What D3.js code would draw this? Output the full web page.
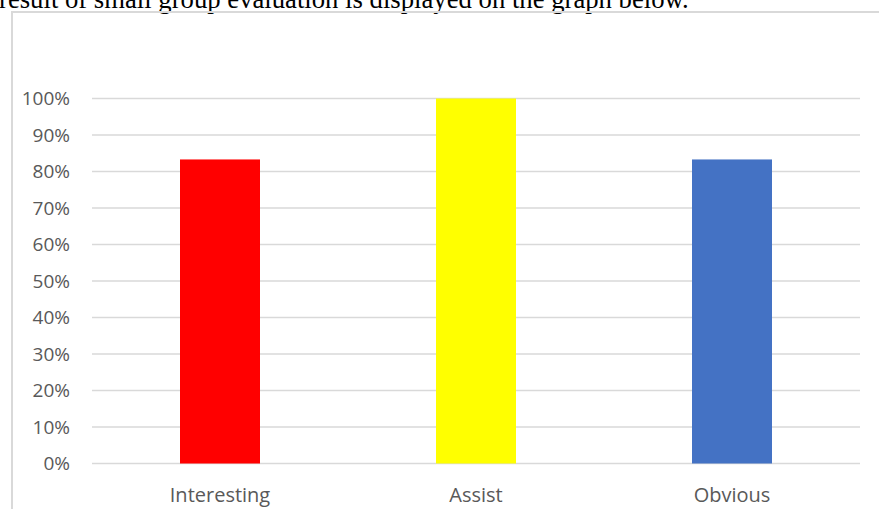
<!DOCTYPE html>
<html>
<head>
<meta charset="utf-8">
<script src="https://cdn.jsdelivr.net/npm/d3@7"></script>
<style>
  html, body { margin: 0; padding: 0; background: #fff; }
  svg { display: block; }
</style>
</head>
<body>
<script>
// Small group evaluation results
const categories = ["Interesting", "Assist", "Obvious"];
const values = [0.833, 1.0, 0.833];
const barColors = ["#ff0000", "#ffff00", "#4472c4"];
const tickValues = [0, 0.1, 0.2, 0.3, 0.4, 0.5, 0.6, 0.7, 0.8, 0.9, 1.0];
const captionText = "result of small group evaluation is displayed on the graph below.";

const W = 879, H = 509;
const svg = d3.select("body").append("svg")
  .attr("width", W).attr("height", H);

// Caption line above the chart frame (runs off the top of the page)
svg.append("text")
  .attr("x", -1).attr("y", 8)
  .attr("font-family", "'Liberation Serif', 'Times New Roman', serif")
  .attr("font-size", 26.7)
  .attr("fill", "#000")
  .text(captionText);

// Chart area frame
svg.append("path")
  .attr("d", `M12,${H + 5} L12,12 L${W + 5},12`)
  .attr("fill", "none")
  .attr("stroke", "#d9d9d9")
  .attr("stroke-width", 2);

const plot = { left: 92, right: 860, top: 98.5, bottom: 463.5 };

const x = d3.scaleBand()
  .domain(categories)
  .range([plot.left, plot.right])
  .paddingInner(0.6875)
  .paddingOuter(0.34375);

const y = d3.scaleLinear()
  .domain([0, 1])
  .range([plot.bottom, plot.top]);

const font = "'Open Sans', 'Noto Sans', sans-serif";

// Horizontal gridlines
svg.append("g")
  .selectAll("line")
  .data(tickValues)
  .join("line")
  .attr("x1", plot.left).attr("x2", plot.right)
  .attr("y1", d => y(d)).attr("y2", d => y(d))
  .attr("stroke", "#d9d9d9")
  .attr("stroke-width", 1.5);

// Y axis labels
const yAxis = d3.axisLeft(y)
  .tickValues(tickValues)
  .tickFormat(d3.format(".0%"))
  .tickSize(0)
  .tickPadding(0);
const yg = svg.append("g")
  .attr("transform", `translate(70,0)`)
  .call(yAxis);
yg.select(".domain").remove();
yg.selectAll("text")
  .attr("font-family", font)
  .attr("font-size", 19)
  .attr("fill", "#595959");

// Bars
svg.append("g")
  .selectAll("rect")
  .data(categories)
  .join("rect")
  .attr("x", d => x(d))
  .attr("width", x.bandwidth())
  .attr("y", (d, i) => y(values[i]))
  .attr("height", (d, i) => y(0) - y(values[i]))
  .attr("fill", (d, i) => barColors[i]);

// X axis labels
const xAxis = d3.axisBottom(x).tickSize(0).tickPadding(0);
const xg = svg.append("g")
  .attr("transform", `translate(0,${plot.bottom + 24})`)
  .call(xAxis);
xg.select(".domain").remove();
xg.selectAll("text")
  .attr("font-family", font)
  .attr("font-size", 20)
  .attr("fill", "#595959");
</script>
</body>
</html>
